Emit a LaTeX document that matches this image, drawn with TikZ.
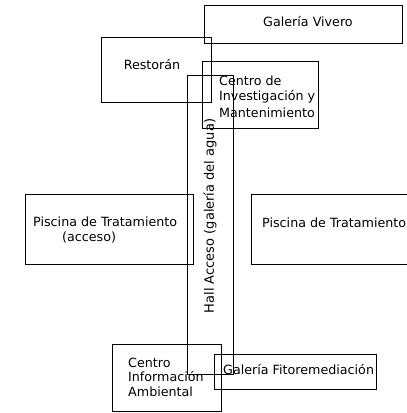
\documentclass[tikz,border=0pt]{standalone}
\usepackage{fontspec}
\setmainfont{DejaVu Sans}
\begin{document}
\begin{tikzpicture}[x=1pt,y=-1pt,
  box/.style={draw=black,line width=0.9pt,inner sep=0pt},
  lbl/.style={font=\fontsize{12.7}{15}\selectfont,inner sep=0pt},
  lbll/.style={lbl,anchor=west,align=left}]
\useasboundingbox (0,0) rectangle (407,413);
\clip (0,0) rectangle (407,413);
% boxes
\draw[box] (204,5) rectangle (402,43) coordinate (vivero);
\draw[box] (101,37) rectangle (211,102) coordinate (restoran);
\draw[box] (202,61) rectangle (318,128) coordinate (centroinv);
\draw[box] (187,75) rectangle (233,374) coordinate (hall);
\draw[box] (25,194) rectangle (193,264) coordinate (piscl);
\draw[box] (251,194) rectangle (412,264) coordinate (piscr);
\draw[box] (112,344) rectangle (221,411) coordinate (cia);
\draw[box] (214,354) rectangle (376,389) coordinate (fito);
% labels
\node[lbl] (tviv) at (308,22) {Galería Vivero};
\node[lbl] (tres) at (152,65) {Restorán};
\node[lbll] (tci1) at (219,81) {Centro de};
\node[lbll] (tci2) at (219,97) {Investigación y};
\node[lbll] (tci3) at (219,113) {Mantenimiento};
\node[lbl,rotate=90,font=\fontsize{13}{15}\selectfont] (thall) at (210,216) {Hall Acceso (galería del agua)};
\node[lbll] (tpl1) at (33,222) {Piscina de Tratamiento};
\node[lbll] (tpl2) at (62,238) {(acceso)};
\node[lbll] (tpr) at (262,223) {Piscina de Tratamiento};
\node[lbll] (tcia1) at (128,363) {Centro};
\node[lbll] (tcia2) at (128,377) {Información};
\node[lbll] (tcia3) at (128,392) {Ambiental};
\node[lbll] (tfit) at (223,370) {Galería Fitoremediación};
\end{tikzpicture}
\end{document}
